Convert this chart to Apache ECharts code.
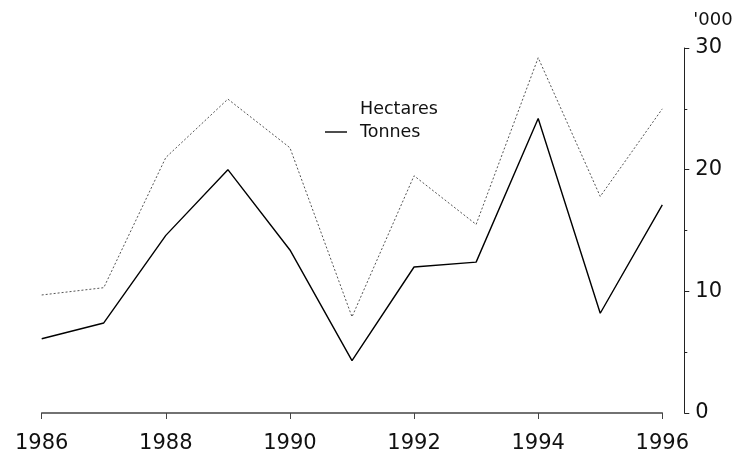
<!DOCTYPE html>
<html>
<head>
<meta charset="utf-8">
<script src="https://cdn.jsdelivr.net/npm/echarts@6/dist/echarts.min.js"></script>
<style>
html,body{margin:0;padding:0;background:#fff;}
#chart{width:740px;height:454px;}
</style>
</head>
<body>
<div id="chart"></div>
<script>
var years = [1986, 1987, 1988, 1989, 1990, 1991, 1992, 1993, 1994, 1995, 1996];
var hectares = [9.7, 10.3, 21.0, 25.8, 21.8, 7.9, 19.5, 15.5, 29.2, 17.8, 25.0];
var tonnes = [6.1, 7.4, 14.6, 20.0, 13.4, 4.3, 12.0, 12.4, 24.2, 8.2, 17.1];
var yTicks = [0, 10, 20, 30];
var xTickLabels = ['1986', '1988', '1990', '1992', '1994', '1996'];

function pairs(vals) {
  return years.map(function (y, i) { return [y, vals[i]]; });
}

var FONT = 'DejaVu Sans';
var chart = echarts.init(document.getElementById('chart'), null, {renderer: 'canvas'});
chart.setOption({
  animation: false,
  backgroundColor: '#ffffff',
  grid: {left: 41.7, right: 77.7, top: 48, bottom: 41},
  legend: {
    orient: 'vertical',
    left: 320,
    top: 95,
    icon: 'rect',
    itemWidth: 22,
    itemHeight: 1.4,
    itemGap: 5,
    textStyle: {fontFamily: FONT, fontSize: 17.5, color: '#111', padding: [0, 0, 0, 8]},
    data: [
      {name: 'Hectares', itemStyle: {opacity: 0}},
      {name: 'Tonnes', itemStyle: {color: '#000'}}
    ]
  },
  xAxis: {
    type: 'value',
    min: 1986,
    max: 1996,
    interval: 2,
    axisLine: {show: true, lineStyle: {color: '#444', width: 1.5}},
    axisTick: {show: true, inside: false, length: 6, lineStyle: {color: '#444', width: 1}},
    axisLabel: {
      margin: 20,
      fontFamily: FONT,
      fontSize: 21,
      color: '#111',
      formatter: function (v) {
        var s = String(Math.round(v));
        return xTickLabels.indexOf(s) >= 0 ? s : '';
      }
    },
    splitLine: {show: false}
  },
  yAxis: {
    type: 'value',
    position: 'right',
    offset: 22,
    min: 0,
    max: 30,
    interval: 10,
    name: "'000",
    nameLocation: 'end',
    nameGap: 28,
    nameTextStyle: {fontFamily: FONT, fontSize: 18, color: '#111', align: 'left', verticalAlign: 'middle', padding: [0, 0, 0, 9]},
    axisLine: {show: true, lineStyle: {color: '#222', width: 1}},
    axisTick: {show: true, inside: false, length: 5, lineStyle: {color: '#222'}},
    minorTick: {show: true, splitNumber: 2, length: 3, lineStyle: {color: '#222'}},
    axisLabel: {
      margin: 11,
      fontFamily: FONT,
      fontSize: 21,
      color: '#111',
      formatter: function (v) { return yTicks.indexOf(v) >= 0 ? String(v) : ''; }
    },
    splitLine: {show: false}
  },
  series: [
    {
      name: 'Hectares',
      type: 'line',
      data: pairs(hectares),
      showSymbol: false,
      symbol: 'none',
      color: '#666',
      lineStyle: {color: '#555', width: 1, type: [2, 2]}
    },
    {
      name: 'Tonnes',
      type: 'line',
      data: pairs(tonnes),
      showSymbol: false,
      symbol: 'none',
      color: '#000',
      lineStyle: {color: '#000', width: 1.4}
    }
  ]
});
</script>
</body>
</html>
